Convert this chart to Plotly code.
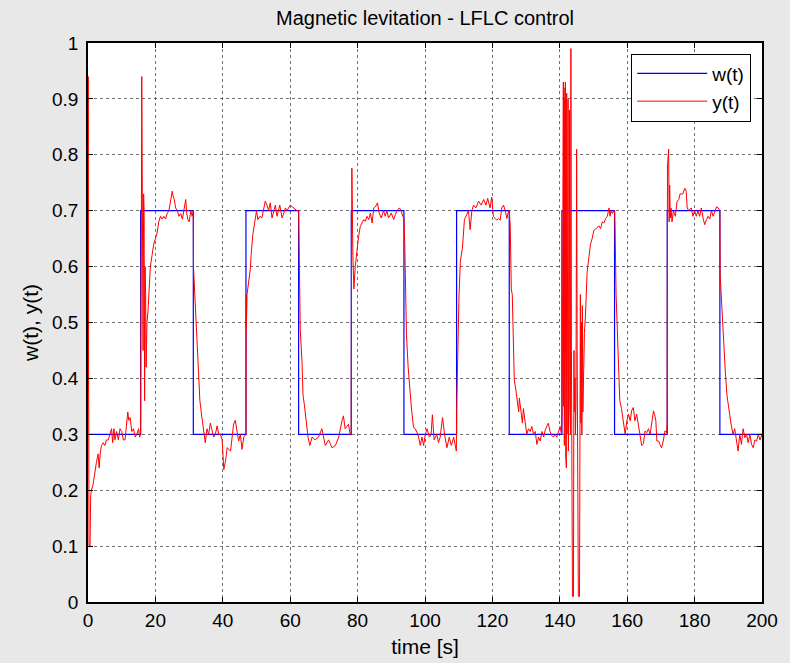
import plotly.graph_objects as go

# ---------------- data ----------------
# reference signal w(t): step levels, piecewise constant (held until next time)
w_time = [0, 15.625, 31.25, 46.875, 62.5, 78.125, 93.75, 109.375, 125.0,
          140.625, 156.25, 171.875, 187.5, 200]
w_vals = [0.3, 0.7, 0.3, 0.7, 0.3, 0.7, 0.3, 0.7, 0.3, 0.7, 0.3, 0.7, 0.3, 0.3]

y_time = [
    0.0, 0.05, 0.15, 0.3, 0.6, 0.8, 1.0, 1.5, 2.0, 2.5, 3.0, 3.3, 3.7, 4.0, 4.5,
    5.0, 5.5, 6.0, 6.5, 7.0, 7.3, 7.7, 8.0, 8.5, 9.0, 9.5, 10.0, 10.5, 11.0,
    11.5, 11.8, 12.1, 12.5, 13.0, 13.5, 14.0, 14.5, 15.0, 15.3, 15.6,
    15.65, 15.75, 15.85, 15.95, 16.05, 16.2, 16.35, 16.5, 16.65, 16.8, 16.95,
    17.1, 17.25, 17.5, 17.8, 18.0, 18.5, 19.0, 19.5, 20.0, 20.5, 21.0, 21.5,
    22.0, 22.5, 23.0, 23.5, 24.0, 24.5, 25.0, 25.3, 25.6, 26.0, 26.5, 27.0,
    27.5, 28.0, 28.5, 29.0, 29.3, 29.6, 30.0, 30.5, 30.9, 31.25,
    31.3, 31.6, 32.0, 32.4, 32.8, 33.2, 33.8, 34.3, 34.8, 35.3, 35.8, 36.3,
    36.8, 37.3, 37.8, 38.3, 38.8, 39.3, 39.8, 40.3, 40.8, 41.3, 42.3, 42.7,
    43.2, 43.7, 44.2, 44.7, 45.2, 45.7, 46.2, 46.7, 46.9,
    46.95, 47.0, 47.2, 48.2, 48.4, 48.9, 49.5, 50.0, 50.4, 51.0, 51.6, 52.6,
    53.1, 53.6, 54.1, 54.6, 55.6, 56.1, 56.9, 57.6, 58.6, 59.05, 60.0, 61.0,
    62.0, 62.5,
    62.7, 63.0, 63.5, 63.8, 64.2, 64.8, 65.3, 65.8, 66.5, 67.4, 68.4, 69.4,
    70.4, 71.4, 72.4, 73.4, 74.4, 75.4, 75.8, 76.3, 77.3, 77.8, 78.1,
    78.15, 78.3, 78.45, 78.6, 78.9, 79.3, 79.8, 80.3, 80.8, 81.3, 81.8, 82.3,
    82.8, 83.3, 83.8, 84.3, 84.8, 85.4, 85.9, 86.4, 87.0, 87.7, 88.2, 88.7,
    89.2, 90.0, 90.7, 91.2, 91.7, 92.4, 92.9, 93.4, 93.75,
    94.0, 94.2, 94.5, 95.0, 95.5, 96.0, 96.6, 97.1, 97.9, 98.6, 99.1, 99.6,
    100.1, 100.6, 101.3, 101.8, 102.2, 102.7, 103.5, 104.0, 104.5, 105.2,
    105.8, 106.5, 107.2, 107.8, 108.5, 109.0, 109.3,
    109.4, 109.75, 110.1, 110.5, 111.1, 111.7, 112.2, 112.9, 113.4, 113.9,
    114.4, 115.1, 115.9, 116.7, 117.4, 118.1, 118.6, 119.3, 119.8, 120.3,
    120.8, 121.3, 121.8, 122.3, 122.8, 123.3, 123.8, 124.3, 124.8, 125.0,
    125.3, 125.6, 125.9, 126.1, 126.5, 127.0, 127.3, 127.8, 128.0, 128.4,
    128.9, 129.2, 129.7, 130.2, 130.7, 131.2, 131.7, 132.2, 132.7, 133.2,
    133.7, 134.2, 134.7, 135.2, 135.7, 136.2, 136.6, 137.1, 137.6, 138.1,
    138.6, 139.1, 139.6, 140.1, 140.5,
    140.65, 140.75, 140.85, 140.95, 141.05, 141.15, 141.25, 141.35, 141.45,
    141.55, 141.65, 141.75, 141.85, 141.95, 142.05, 142.15, 142.25, 142.35,
    142.45, 142.55, 142.65, 142.75, 142.85, 142.95, 143.05, 143.15, 143.3,
    143.45, 143.6, 143.75, 144.05, 144.2, 144.35, 144.5, 144.65, 144.8,
    145.0, 145.15, 145.3, 145.5, 145.85, 146.0, 146.1, 146.25, 146.4, 146.55,
    146.7, 146.85, 147.0, 147.3, 147.6, 148.1, 148.6, 149.1, 149.6, 150.1,
    150.6, 151.1, 151.6, 152.1, 152.6, 153.1, 153.6, 154.1, 154.6, 154.9,
    155.2, 155.6, 156.0, 156.25,
    156.4, 156.7, 157.0, 157.3, 157.8, 158.3, 158.8, 159.4, 159.9, 160.4,
    160.9, 161.3, 161.8, 162.3, 162.8, 163.3, 163.8, 164.3, 164.8, 165.3,
    165.8, 166.3, 166.8, 167.3, 167.8, 168.1, 168.5, 168.8, 169.3, 169.7,
    170.2, 170.7, 171.2, 171.7, 171.85,
    171.95, 172.1, 172.3, 172.45, 172.6, 172.8, 173.0, 173.3, 173.7, 174.3,
    174.8, 175.3, 175.7, 176.5, 177.1, 177.5, 177.8, 178.3, 179.0, 179.5,
    180.0, 180.5, 181.0, 181.5, 182.0, 182.5, 183.0, 183.5, 184.0, 184.5,
    185.0, 185.5, 186.0, 186.5, 187.0, 187.5,
    187.6, 188.0, 188.4, 188.7, 189.1, 189.6, 190.0, 190.4, 190.9, 191.4,
    191.9, 192.4, 192.9, 193.4, 193.9, 194.4, 194.9, 195.4, 195.9, 196.4,
    196.9, 197.4, 197.9, 198.4, 198.9, 199.4, 200.0,
]
y_vals = [
    0.38, 0.94, 0.45, 0.10, 0.10, 0.19, 0.20, 0.21, 0.235, 0.25, 0.265, 0.24,
    0.27, 0.28, 0.285, 0.28, 0.29, 0.29, 0.30, 0.31, 0.285, 0.31, 0.29, 0.305,
    0.29, 0.31, 0.305, 0.29, 0.29, 0.33, 0.34, 0.325, 0.33, 0.305, 0.31,
    0.295, 0.30, 0.31, 0.295, 0.30,
    0.70, 0.64, 0.70, 0.94, 0.80, 0.62, 0.45, 0.73, 0.70, 0.36, 0.60,
    0.55, 0.42, 0.50, 0.52, 0.55, 0.60, 0.62, 0.64, 0.65, 0.66, 0.68, 0.69,
    0.685, 0.69, 0.685, 0.695, 0.70, 0.715, 0.735, 0.725, 0.72, 0.705, 0.70,
    0.69, 0.695, 0.685, 0.70, 0.72, 0.695, 0.685, 0.68, 0.70, 0.69, 0.70,
    0.60, 0.56, 0.52, 0.46, 0.40, 0.36, 0.33, 0.305, 0.285, 0.31, 0.30, 0.32,
    0.305, 0.295, 0.30, 0.315, 0.30, 0.30, 0.29, 0.237, 0.252, 0.276, 0.27,
    0.295, 0.318, 0.325, 0.306, 0.288, 0.30, 0.273, 0.295, 0.30, 0.30,
    0.55, 0.49, 0.55, 0.598, 0.62, 0.657, 0.68, 0.70, 0.684, 0.69, 0.687,
    0.717, 0.71, 0.70, 0.714, 0.687, 0.71, 0.69, 0.71, 0.687, 0.705, 0.70,
    0.71, 0.705, 0.70, 0.70,
    0.574, 0.485, 0.43, 0.37, 0.353, 0.318, 0.295, 0.28, 0.295, 0.29, 0.295,
    0.31, 0.28, 0.29, 0.276, 0.28, 0.295, 0.325, 0.333, 0.31, 0.318, 0.30,
    0.30,
    0.50, 0.776, 0.70, 0.62, 0.56, 0.60, 0.63, 0.654, 0.672, 0.678, 0.684,
    0.681, 0.69, 0.684, 0.696, 0.678, 0.705, 0.708, 0.714, 0.696, 0.687,
    0.70, 0.69, 0.70, 0.687, 0.696, 0.684, 0.693, 0.70, 0.705, 0.70, 0.69,
    0.687,
    0.64, 0.553, 0.478, 0.42, 0.377, 0.345, 0.312, 0.31, 0.30, 0.28, 0.295,
    0.28, 0.30, 0.31, 0.295, 0.30, 0.335, 0.29, 0.30, 0.285, 0.295, 0.33,
    0.30, 0.276, 0.295, 0.28, 0.295, 0.28, 0.27,
    0.35, 0.478, 0.55, 0.61, 0.633, 0.684, 0.69, 0.70, 0.666, 0.70, 0.71,
    0.705, 0.717, 0.71, 0.72, 0.71, 0.722, 0.705, 0.724, 0.69, 0.686, 0.683,
    0.686, 0.683, 0.705, 0.71, 0.70, 0.686, 0.70, 0.70,
    0.673, 0.56, 0.55, 0.487, 0.397, 0.378, 0.36, 0.34, 0.365, 0.346, 0.32,
    0.346, 0.327, 0.30, 0.31, 0.305, 0.314, 0.30, 0.305, 0.282, 0.295,
    0.288, 0.305, 0.295, 0.308, 0.317, 0.32, 0.305, 0.298, 0.295, 0.30,
    0.295, 0.305, 0.314, 0.30,
    0.33, 0.40, 0.92, 0.60, 0.93, 0.35, 0.92, 0.28, 0.90, 0.45, 0.93, 0.26,
    0.88, 0.24, 0.91, 0.30, 0.86, 0.50, 0.90, 0.27, 0.80, 0.40, 0.88, 0.35,
    0.70, 0.30, 0.99, 0.45, 0.20, 0.01, 0.01, 0.45, 0.34, 0.40, 0.30, 0.36,
    0.81, 0.45, 0.20, 0.01, 0.01, 0.30, 0.55, 0.32, 0.50, 0.30, 0.53, 0.34,
    0.42, 0.48, 0.51, 0.59, 0.615, 0.64, 0.65, 0.665, 0.667, 0.67, 0.673,
    0.668, 0.68, 0.678, 0.686, 0.69, 0.705, 0.69, 0.70, 0.695, 0.70, 0.70,
    0.667, 0.55, 0.49, 0.42, 0.36, 0.346, 0.32, 0.30, 0.324, 0.336, 0.324,
    0.342, 0.348, 0.324, 0.336, 0.318, 0.306, 0.28, 0.283, 0.306, 0.303,
    0.31, 0.30, 0.324, 0.342, 0.336, 0.324, 0.288, 0.288, 0.282, 0.276,
    0.288, 0.306, 0.303, 0.32,
    0.78, 0.79, 0.81, 0.68, 0.746, 0.687, 0.705, 0.68, 0.70, 0.69, 0.717,
    0.72, 0.73, 0.73, 0.74, 0.735, 0.705, 0.70, 0.705, 0.69, 0.70, 0.69,
    0.70, 0.69, 0.705, 0.687, 0.675, 0.684, 0.69, 0.685, 0.70, 0.69, 0.70,
    0.707, 0.705, 0.70,
    0.583, 0.53, 0.50, 0.45, 0.413, 0.37, 0.347, 0.336, 0.315, 0.30, 0.31,
    0.288, 0.27, 0.30, 0.282, 0.31, 0.294, 0.30, 0.285, 0.30, 0.282, 0.276,
    0.29, 0.288, 0.30, 0.29, 0.30,
]

x_ticks = [0, 20, 40, 60, 80, 100, 120, 140, 160, 180, 200]
y_ticks = [0, 0.1, 0.2, 0.3, 0.4, 0.5, 0.6, 0.7, 0.8, 0.9, 1.0]
y_tick_text = ["0", "0.1", "0.2", "0.3", "0.4", "0.5", "0.6", "0.7", "0.8", "0.9", "1"]

# ---------------- figure ----------------
FONT = "Liberation Sans, Arial, Helvetica, sans-serif"
BLUE = "rgb(0,0,255)"
RED = "rgb(255,0,0)"

fig = go.Figure()
fig.add_trace(go.Scatter(x=w_time, y=w_vals, mode="lines", name="w(t)",
                         line=dict(color=BLUE, width=1.2, shape="hv"),
                         legendgroup="w"))
fig.add_trace(go.Scatter(x=y_time, y=y_vals, mode="lines", name="y(t)",
                         line=dict(color=RED, width=1),
                         legendgroup="y"))

axis_common = dict(
    showline=True, linecolor="black", linewidth=1.5, mirror="ticks",
    ticks="inside", ticklen=5, tickcolor="black", tickwidth=1,
    showgrid=True, gridcolor="rgba(0,0,0,0.55)", griddash="dot", gridwidth=1,
    zeroline=False, tickfont=dict(family=FONT, size=19, color="black"),
)

fig.update_xaxes(range=[0, 200], tickvals=x_ticks,
                 title=dict(text="time [s]", font=dict(family=FONT, size=21, color="black"),
                            standoff=10),
                 **axis_common)
fig.update_yaxes(range=[0, 1], tickvals=y_ticks, ticktext=y_tick_text,
                 ticklabelstandoff=4,
                 title=dict(text="w(t), y(t)", font=dict(family=FONT, size=21, color="black"),
                            standoff=8),
                 **axis_common)

fig.update_layout(
    width=790, height=663,
    margin=dict(l=88, r=28, t=43, b=61, autoexpand=False),
    paper_bgcolor="rgb(232,232,232)",
    plot_bgcolor="white",
    title=dict(text="Magnetic levitation - LFLC control",
               font=dict(family=FONT, size=20, color="black"),
               x=0.5, xref="paper", xanchor="center",
               y=1 - 18 / 663, yref="container", yanchor="middle"),
    legend=dict(x=0.984, y=0.981, xanchor="right", yanchor="top",
                bgcolor="white", bordercolor="black", borderwidth=1,
                font=dict(family=FONT, size=19, color="black"),
                itemwidth=70, tracegroupgap=10, traceorder="normal"),
    showlegend=True,
)

fig.write_html(
    "out.html",
    config={"displayModeBar": False},
    post_script="document.body.style.margin='0';document.body.style.padding='0';"
                "document.body.style.overflow='hidden';",
)
